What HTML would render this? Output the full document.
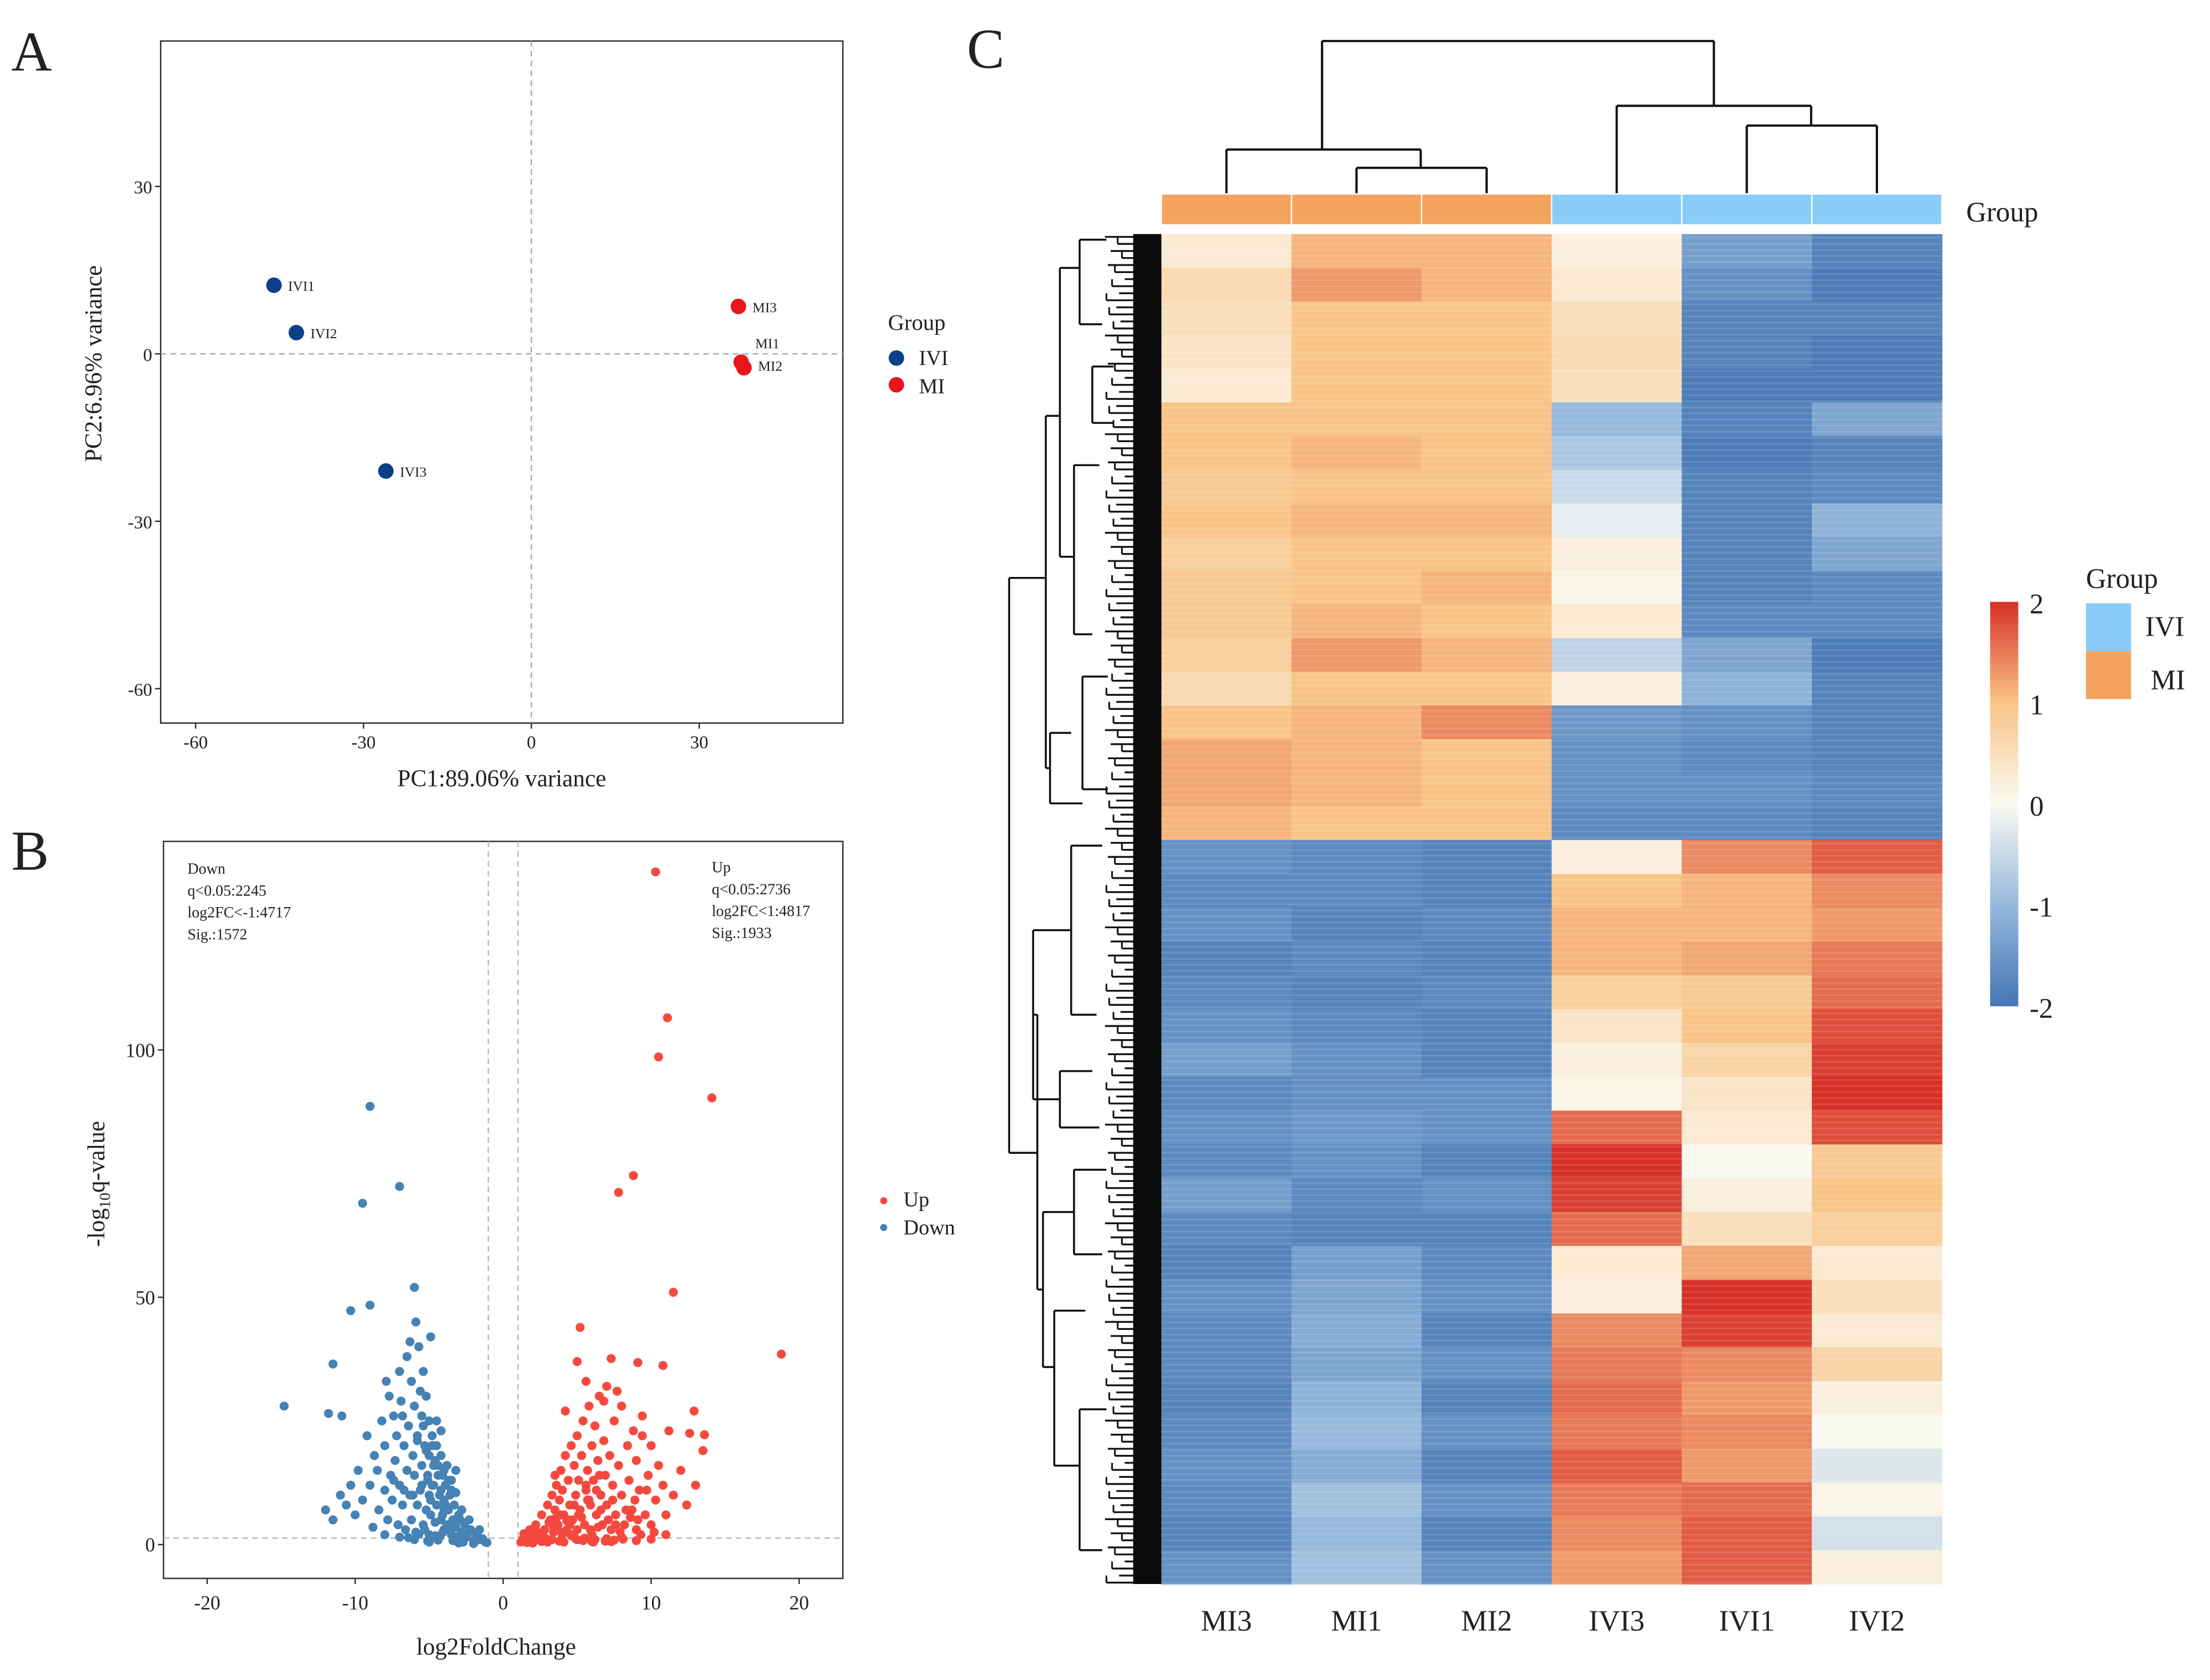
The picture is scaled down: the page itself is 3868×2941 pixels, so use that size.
<!DOCTYPE html>
<html><head><meta charset="utf-8"><style>
html,body{margin:0;padding:0;background:#fff}
svg{display:block}
text{font-family:"Liberation Serif",serif;fill:#222}
</style></head><body>
<svg id="fig" width="3868" height="2941" viewBox="0 0 1568 1192" xmlns="http://www.w3.org/2000/svg"></svg>
<script>
// ---------- DATA ----------
const pcaLabels=["IVI1","IVI2","IVI3","MI3","MI1","MI2"];
const pcaGroup=["IVI","IVI","IVI","MI","MI","MI"];
const pcaPC1=[-46,-42,-26,37,37.5,38];
const pcaPC2=[12.3,3.8,-21,8.5,-1.5,-2.5];
const pcaXTicks=[-60,-30,0,30];
const pcaYTicks=[30,0,-30,-60];
const volXTicks=[-20,-10,0,10,20];
const volYTicks=[0,50,100];
const upX=[10.3,11.1,10.5,14.1,8.8,7.8,11.5,5.2,18.8,7.3,9.1,10.8,12.9,13.6,12.6,1.2,1.5,1.8,2,2.2,2.5,2.6,2.8,3,3,3.2,3.3,3.4,3.5,3.6,3.7,3.8,3.9,4,4,4.1,4.2,4.3,4.4,4.5,4.6,4.7,4.8,4.9,5,5,5.1,5.2,5.3,5.4,5.5,5.6,5.7,5.8,5.9,6,6,6.1,6.2,6.3,6.4,6.5,6.6,6.7,6.8,6.9,7,7,7.2,7.3,7.4,7.5,7.6,7.8,8,8,8.2,8.4,8.5,8.7,8.8,9,9,9.2,9.4,9.6,9.8,10,10,10.3,10.5,10.8,11,11.2,11.5,12,12.4,13,13.5,2,3,4,5,6,7,8,9,10,11,3.5,4.2,5.6,6.8,5,7.7,9.4,1.4,2.3,2.7,3.1,3.6,4.3,4.7,5.3,5.8,6.4,7.1,7.9,8.6,9.3,2.1,2.9,3.8,4.6,5.5,6.2,7.3,8.1,1.3,1.7,2.4,3.4,4.4,5.1,5.7,6.3,7.6,8.3,9.1,10.2,1.6,2.6,3.3,4.1,4.9,5.4,6.1,6.9,7.5,3.7,4.5,5.9,6.6,7.4,2.2,3.9,4.8,5.6,6.5,8.9,9.7];
const upY=[136,106.5,98.6,90.3,74.6,71.2,51,43.9,38.5,37.6,36.8,36.2,27,22.2,22.5,0.5,1.5,3,1,4,2,6,3,8,1,5,10,2.5,7,12,4,9,15,2,11,6,18,3,13,8,20,5,16,10,22,3,13,7,18,25,4,11,15,28,8,20,2,13,24,6,17,30,10,4,21,14,32,8,18,3,12,25,6,16,28,10,4,20,13,7,23,3,17,11,26,6,14,20,4,9,16,12,6,23,10,15,8,12,19,0.3,0.5,0.8,1,0.6,1.2,1.5,0.8,1.1,2,14,27,33,29,37,31,22,2.2,2.5,1.5,4.5,5.5,4.8,2,5.5,9,3.5,5,2.6,5.5,2,0.9,1.2,0.7,1.8,1.3,1,0.6,1.1,1,2.5,1.2,3.5,5,6,9,11,4,7,5,2.5,0.4,0.6,1,0.5,1.2,0.8,0.5,0.7,0.9,3,4,3,7,9,1.8,6,8,12,14,9,11];
const downX=[-9,-7,-9.5,-6,-9,-10.3,-14.8,-11.5,-11.8,-10.9,-1.2,-1.5,-1.8,-2,-2.2,-2.5,-2.6,-2.8,-3,-3,-3.2,-3.3,-3.4,-3.5,-3.6,-3.7,-3.8,-3.9,-4,-4,-4,-4.1,-4.2,-4.2,-4.3,-4.4,-4.5,-4.5,-4.6,-4.7,-4.8,-4.8,-4.9,-5,-5,-5,-5,-5.1,-5.2,-5.2,-5.3,-5.4,-5.4,-5.5,-5.5,-5.6,-5.7,-5.8,-5.8,-5.9,-6,-6,-6.1,-6.2,-6.2,-6.3,-6.4,-6.5,-6.5,-6.6,-6.7,-6.8,-6.9,-7,-7,-7.1,-7.2,-7.3,-7.4,-7.5,-7.6,-7.7,-7.8,-8,-8,-8.2,-8.4,-8.5,-8.7,-8.8,-9,-9.2,-9.5,-9.8,-10,-10.3,-10.6,-11,-11.5,-12,-3,-2,-5,-6,-7,-8,-4.5,-3.8,-3.5,-5.6,-6.8,-4.2,-5.9,-4.9,-6.3,-7.9,-3.2,-2.8,-2.3,-1.6,-1.4,-2.4,-3.1,-3.6,-4.1,-4.6,-5.3,-5.7,-6.4,-3.4,-4.4,-5.1,-1.1,-1.9,-2.7,-3.3,-3.9,-4.3,-4.7,-5.1,-5.5,-3.5,-4.1,-4.6,-5.2,-3.7,-4.8,-5.8,-2.9,-4,-4.9,-6.1,-3.2,-4.4,-5.4,-2.5,-3.6,-4.2,-6.7,-7.4];
const downY=[88.6,72.4,69,52,48.4,47.3,28,36.5,26.5,26,0.5,1,2,0.8,3,1.5,4,2.5,6,1,3.5,8,5,2,10,7,4,12,15,9,3,6,18,11,1.5,14,20,8,4.5,16,22,12,6,25,18,10,2,14,30,7,20,35,4,16,26,11,40,22,8,2.5,28,14,18,33,5,10,24,38,15,3,20,8,29,12,35,4,22,17,26,9,14,30,5,20,11,25,7,15,18,3.5,12,22,9,15,6,12,8,10,5,7,0.3,0.2,0.5,1,1.5,2,25,16,13,31,26,23,45,42,41,33,10.5,7,5,3,1.2,2.2,1.6,3.2,2.4,1.8,3,2.1,1.4,0.8,0.9,0.7,0.4,0.6,0.5,0.9,8,10,12,13,12,11,14,17,19,13,20,21,5,7,9,10,15,16,24,2,4,5,11,13];
const hmCols=["MI3","MI1","MI2","IVI3","IVI1","IVI2"];
const hmGroup=["MI","MI","MI","IVI","IVI","IVI"];
const hmMI3=[0.3,0.6,0.5,0.4,0.3,1.0,1.0,0.9,1.0,0.8,0.9,0.9,0.8,0.6,1.0,1.2,1.2,1.1,-1.6,-1.7,-1.6,-1.8,-1.7,-1.6,-1.4,-1.7,-1.6,-1.7,-1.4,-1.7,-1.8,-1.6,-1.7,-1.7,-1.8,-1.7,-1.6,-1.7,-1.8,-1.6];
const hmMI1=[1.1,1.3,1.0,1.0,1.0,1.0,1.1,1.0,1.1,1.0,1.0,1.1,1.3,1.0,1.1,1.1,1.1,1.0,-1.7,-1.7,-1.8,-1.7,-1.8,-1.7,-1.6,-1.6,-1.5,-1.6,-1.7,-1.8,-1.4,-1.3,-1.2,-1.3,-1.1,-1.0,-1.2,-0.9,-1.0,-0.9];
const hmMI2=[1.1,1.1,1.0,1.0,1.0,1.0,1.0,1.0,1.1,1.0,1.1,1.0,1.1,1.0,1.4,1.0,1.0,1.0,-1.8,-1.8,-1.7,-1.8,-1.7,-1.8,-1.8,-1.6,-1.6,-1.8,-1.6,-1.8,-1.7,-1.6,-1.8,-1.6,-1.8,-1.6,-1.8,-1.6,-1.8,-1.6];
const hmIVI3=[0.2,0.3,0.5,0.6,0.5,-1.0,-0.8,-0.5,-0.2,0.2,0.1,0.3,-0.6,0.2,-1.5,-1.6,-1.6,-1.7,0.2,1.0,1.1,1.1,0.8,0.4,0.2,0.1,1.6,2.0,1.9,1.6,0.3,0.2,1.4,1.5,1.6,1.5,1.7,1.5,1.4,1.3];
const hmIVI1=[-1.4,-1.6,-1.8,-1.8,-1.9,-1.8,-1.9,-1.8,-1.8,-1.8,-1.8,-1.7,-1.3,-1.1,-1.6,-1.7,-1.6,-1.7,1.4,1.1,1.1,1.2,0.9,1.0,0.7,0.4,0.3,0.0,0.2,0.5,1.2,2.0,1.9,1.4,1.3,1.4,1.3,1.6,1.7,1.7];
const hmIVI2=[-1.8,-1.9,-1.8,-1.9,-1.9,-1.3,-1.8,-1.7,-1.1,-1.3,-1.7,-1.7,-1.9,-1.8,-1.8,-1.8,-1.7,-1.8,1.7,1.4,1.3,1.5,1.6,1.8,1.9,2.0,1.8,0.9,1.0,0.8,0.3,0.5,0.3,0.7,0.2,0.0,-0.3,0.1,-0.4,0.2];
const hmScaleTicks=[2,1,0,-1,-2];

// ---------- HELPERS ----------
const NS="http://www.w3.org/2000/svg";
const svg=document.getElementById('fig');
function mk(tag,attrs,parent,txt){const e=document.createElementNS(NS,tag);for(const k in attrs)e.setAttribute(k,attrs[k]);if(txt!==undefined)e.textContent=txt;(parent||svg).appendChild(e);return e;}
function grp(name){const g=mk('g',{});return g;}
function txt(g,x,y,s,size,anchor,name,extra){const t=mk('text',Object.assign({x:x,y:y,'font-size':size,'text-anchor':anchor||'start'},extra||{}),g,s);return t;}

const letters=grp('panel-letters');
txt(letters,8,50,"A",40,'start','panel-letter-a');
txt(letters,8,617,"B",40,'start','panel-letter-b');
txt(letters,686,48,"C",40,'start','panel-letter-c');

// ---------- PANEL A ----------
(function(){
  const g=grp('pca-plot');
  const L=114,T=29,R=598,B=513;
  const sx=v=>377+v*3.97, sy=v=>251-v*3.96;
  const fr=mk('rect',{x:L,y:T,width:R-L,height:B-T,fill:'none',stroke:'#333','stroke-width':1},g);
  
  const zx=mk('line',{x1:sx(0),x2:sx(0),y1:T,y2:B,stroke:'#aaa','stroke-dasharray':'4 3'},g);
  
  const zy=mk('line',{x1:L,x2:R,y1:sy(0),y2:sy(0),stroke:'#aaa','stroke-dasharray':'4 3'},g);
  
  pcaXTicks.forEach(v=>{mk('line',{x1:sx(v),x2:sx(v),y1:B,y2:B+4,stroke:'#333'},g);txt(g,sx(v),B+18,String(v),13,'middle','pca-x-tick');});
  pcaYTicks.forEach(v=>{mk('line',{x1:L-4,x2:L,y1:sy(v),y2:sy(v),stroke:'#333'},g);txt(g,L-6,sy(v)+5,String(v),13,'end','pca-y-tick');});
  txt(g,356,558,"PC1:89.06% variance",17,'middle','pca-x-axis-title');
  txt(g,72,258,"PC2:6.96% variance",17,'middle','pca-y-axis-title',{transform:'rotate(-90 72 258)'});
  pcaLabels.forEach((lab,i)=>{
    const c=mk('circle',{cx:sx(pcaPC1[i]),cy:sy(pcaPC2[i]),r:5.5,fill:pcaGroup[i]==='IVI'?'#0d3f86':'#e8161b'},g);
    
    let dy=4; if(lab==='MI1')dy=-10; if(lab==='MI2')dy=2;
    txt(g,sx(pcaPC1[i])+10,sy(pcaPC2[i])+dy,lab,10,'start','pca-point-label');
  });
  const lg=grp('pca-legend');
  txt(lg,630,234,"Group",16,'start','pca-legend-title');
  const c1=mk('circle',{cx:636,cy:254,r:5.5,fill:'#0d3f86'},lg);
  txt(lg,652,259,"IVI",15,'start','legend-ivi-label');
  const c2=mk('circle',{cx:636,cy:273,r:5.5,fill:'#e8161b'},lg);
  txt(lg,652,279,"MI",15,'start','legend-mi-label');
})();

// ---------- PANEL B ----------
(function(){
  const g=grp('volcano-plot');
  const L=116,T=597,R=598,B=1120;
  const sx=v=>357+v*10.5, sy=v=>1096-v*3.51;
  const fr=mk('rect',{x:L,y:T,width:R-L,height:B-T,fill:'none',stroke:'#333','stroke-width':1},g);
  
  [-1,1].forEach(v=>{const l=mk('line',{x1:sx(v),x2:sx(v),y1:T,y2:B,stroke:'#bbb','stroke-dasharray':'4 3'},g);});
  const hl=mk('line',{x1:L,x2:R,y1:sy(1.3),y2:sy(1.3),stroke:'#bbb','stroke-dasharray':'4 3'},g);
  
  volXTicks.forEach(v=>{mk('line',{x1:sx(v),x2:sx(v),y1:B,y2:B+4,stroke:'#333'},g);txt(g,sx(v),B+22,String(v),14,'middle','volcano-x-tick');});
  volYTicks.forEach(v=>{mk('line',{x1:L-4,x2:L,y1:sy(v),y2:sy(v),stroke:'#333'},g);txt(g,L-6,sy(v)+5,String(v),14,'end','volcano-y-tick');});
  txt(g,352,1174,"log2FoldChange",17,'middle','volcano-x-axis-title');
  const yt=txt(g,74,840,"-log",17,'middle','volcano-y-axis-title',{transform:'rotate(-90 74 840)'});
  mk('tspan',{'font-size':11,dy:4},yt,"10");mk('tspan',{dy:-4},yt,"q-value");
  const pts=grp('volcano-points');
  downX.forEach((x,i)=>{const c=mk('circle',{cx:sx(x),cy:sy(downY[i]),r:3.2,fill:'#4682b4'},pts);});
  upX.forEach((x,i)=>{const c=mk('circle',{cx:sx(x),cy:sy(upY[i]),r:3.2,fill:'#f4493e'},pts);});
  const ann=grp('volcano-annotations');
  ["Down","q<0.05:2245","log2FC<-1:4717","Sig.:1572"].forEach((s,i)=>txt(ann,133,620+i*15.5,s,11,'start','down-stat'));
  ["Up","q<0.05:2736","log2FC<1:4817","Sig.:1933"].forEach((s,i)=>txt(ann,505,619+i*15.5,s,11,'start','up-stat'));
  const lg=grp('volcano-legend');
  const a=mk('circle',{cx:627,cy:852,r:2.5,fill:'#f4493e'},lg);
  txt(lg,641,856,"Up",15,'start','legend-up-label');
  const b=mk('circle',{cx:627,cy:871,r:2.5,fill:'#4682b4'},lg);
  txt(lg,641,876,"Down",15,'start','legend-down-label');
})();

// ---------- PANEL C ----------
const stops=[[-2,[69,117,180]],[-1,[150,185,220]],[0,[250,250,242]],[1,[249,196,135]],[2,[215,48,39]]];
function col(v){v=Math.max(-2,Math.min(2,v));for(let i=0;i<stops.length-1;i++){const a=stops[i],b=stops[i+1];if(v<=b[0]){const t=(v-a[0])/(b[0]-a[0]);const c=a[1].map((x,k)=>Math.round(x+(b[1][k]-x)*t));return 'rgb('+c.join(',')+')';}}return 'rgb(215,48,39)';}
(function(){
  const g=grp('heatmap');
  const X0=824,colW=92.3,T=166;
  const data=[hmMI3,hmMI1,hmMI2,hmIVI3,hmIVI1,hmIVI2];
  function bandY(i){return i<18? T+i*(430/18) : 596+(i-18)*(528/22);}
  function bandH(i){return i<18? 430/18 : 528/22;}
  data.forEach((arr,c)=>{
    arr.forEach((v,i)=>{
      const r=mk('rect',{x:X0+c*colW,y:bandY(i),width:colW+0.3,height:bandH(i)+0.3,fill:col(v)},g);
      
    });
    txt(g,X0+c*colW+colW/2,1157,hmCols[c],21,'middle','heatmap-column-label');
  });
  // fine row texture
  const tex=grp('heatmap-row-texture');
  for(let y=168;y<1124;y+=4.3){mk('rect',{x:X0,y:y,width:colW*6,height:1.2,fill:'#ffffff','fill-opacity':0.12},tex);}
  const ab=grp('group-annotation-bar');
  hmGroup.forEach((gr,c)=>{const r=mk('rect',{x:X0+c*colW+0.5,y:138,width:colW-1,height:21,fill:gr==='MI'?'#f4a35f':'#87cdf8'},ab);});
  txt(ab,1395,157,"Group",20,'start','annotation-label');
  const cd=grp('column-dendrogram');
  const cx=c=>X0+c*colW+colW/2;
  const segs=[[cx(0),137,cx(0),106],[cx(0),106,1008,106],[1008,106,1008,119],[cx(1),137,cx(1),119],[cx(1),119,cx(2),119],[cx(2),119,cx(2),137],
    [938,106,938,29],[938,29,1216,29],[1216,29,1216,75],[cx(3),137,cx(3),75],[cx(3),75,1285,75],[1285,75,1285,89],[cx(4),89,cx(5),89],[cx(4),89,cx(4),137],[cx(5),89,cx(5),137]];
  segs.forEach(s=>mk('line',{x1:s[0],y1:s[1],x2:s[2],y2:s[3],stroke:'#111','stroke-width':1.6},cd));
  const rd=grp('row-dendrogram');
  const rs=[[716,410,716,818],[716,410,742,410],[716,818,736,818],[742,295,742,545],[742,295,752,295],[742,545,745,545],
    [752,190,752,395],[752,190,766,190],[752,395,762,395],[745,520,745,570],[745,520,760,520],[745,570,768,570],
    [736,720,736,915],[736,720,733,720],[733,660,733,780],[733,660,760,660],[733,780,752,780],[736,915,740,915],[740,860,740,970],[740,860,762,860],[740,970,748,970],
    [748,930,748,1040],[748,930,770,930],[748,1040,766,1040],[762,330,762,450],[762,330,780,330],[762,450,775,450],[766,170,766,230],[766,170,785,170],[766,230,782,230],
    [760,600,760,720],[760,600,782,600],[760,720,778,720],[752,760,752,800],[752,760,775,760],[752,800,780,800],[762,830,762,890],[762,830,785,830],[762,890,782,890],
    [766,1000,766,1100],[766,1000,785,1000],[766,1100,782,1100],[768,480,768,560],[768,480,786,480],[768,560,786,560],[775,260,775,300],[775,260,790,260],[775,300,790,300]];
  rs.forEach(s=>mk('line',{x1:s[0],y1:s[1],x2:s[2],y2:s[3],stroke:'#111','stroke-width':1.4},rd));
  const off=[0,9,4,12,2,7,14,5,10,1,8,3,11,6];
  let k=0;
  for(let y=168;y<1124;y+=5){const x0=784+off[k%off.length];k++;mk('line',{x1:x0,y1:y,x2:824,y2:y,stroke:'#111','stroke-width':1.3},rd);if(k%2===0)mk('line',{x1:x0,y1:y-5,x2:x0,y2:y,stroke:'#111','stroke-width':1.2},rd);}
  const lf=mk('rect',{x:804,y:166,width:20,height:958,fill:'#0a0a0a'},rd);
  const cl=grp('heatmap-color-legend');
  const defs=mk('defs',{},cl);
  const lgd=mk('linearGradient',{id:'cs',x1:0,y1:0,x2:0,y2:1},defs);
  [[0,2],[0.25,1],[0.5,0],[0.75,-1],[1,-2]].forEach(s=>mk('stop',{offset:s[0],'stop-color':col(s[1])},lgd));
  const cb=mk('rect',{x:1412,y:427,width:20,height:287,fill:'url(#cs)'},cl);
  hmScaleTicks.forEach(v=>{const y=427+(2-v)/4*287;txt(cl,1440,y+8,String(v),20,'start','color-scale-tick');});
  const gl=grp('heatmap-group-legend');
  txt(gl,1480,417,"Group",20,'start','group-legend-title');
  const r1=mk('rect',{x:1480,y:428,width:32,height:34,fill:'#87cdf8'},gl);
  txt(gl,1522,451,"IVI",20,'start','group-legend-ivi-label');
  const r2=mk('rect',{x:1480,y:462,width:32,height:34,fill:'#f4a35f'},gl);
  txt(gl,1526,489,"MI",20,'start','group-legend-mi-label');
})();
</script>
</body></html>
